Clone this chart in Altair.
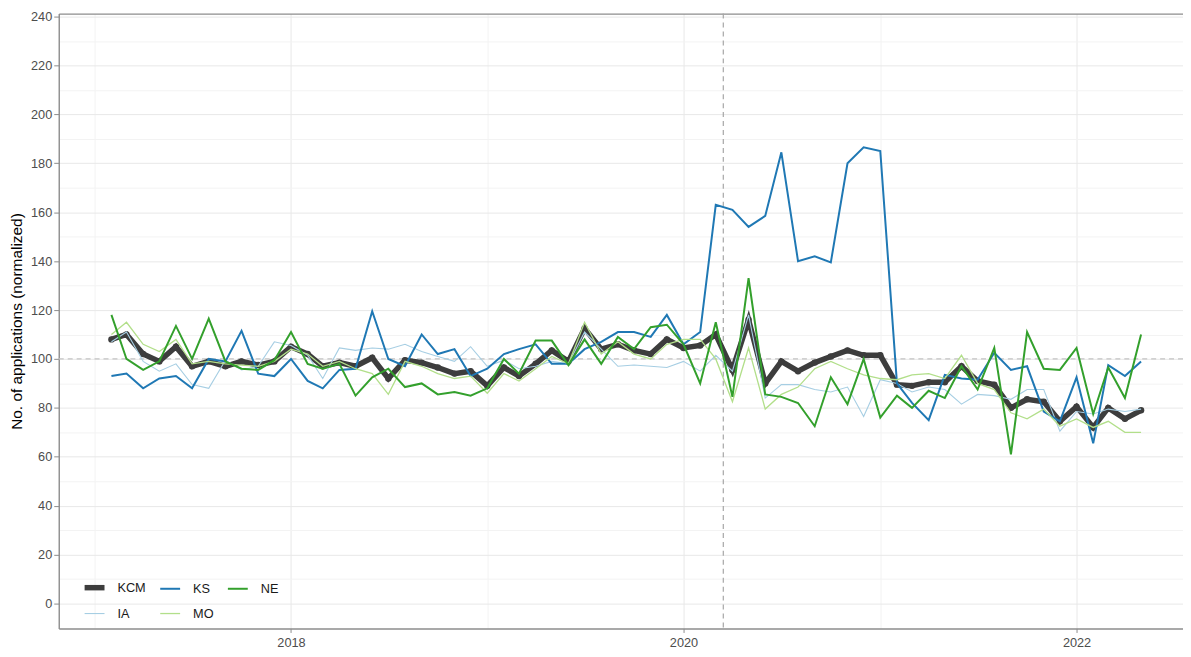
import altair as alt
import pandas as pd

# Monthly dates, Feb 2017 - May 2022
months = pd.date_range("2017-02-01", "2022-05-01", freq="MS").strftime("%Y-%m-%d").tolist()

KCM = [108, 110, 102, 99, 105, 97, 99, 97, 99, 97.5, 99, 105, 102, 97, 98.5, 97,
       100.5, 92, 99.5, 98.5, 96.5, 94, 95, 89, 96.5, 93, 98, 103.5, 99, 112.5, 104, 106,
       103.5, 102, 108, 104.5, 105.5, 110, 95.5, 116, 90, 99, 95, 98.5, 101, 103.5, 101.5, 101.5,
       89.5, 89, 90.5, 90.5, 97, 91, 89.5, 80, 83.5, 82.5, 74.5, 80.5, 72, 80, 75.5, 79]
KS = [93, 94, 88, 92, 93, 88, 100, 99, 111.5, 94, 93, 100, 91, 88, 95.5, 96,
      119.5, 100, 97, 110, 102, 104, 93, 96, 102, 104, 106, 98, 98, 104, 107, 111,
      111, 109, 118, 106, 111, 163, 161, 154, 158.5, 184.5, 140, 142, 139.5, 180, 186.5, 185,
      90, 82, 75, 93.5, 92, 91.5, 102.5, 95.5, 97, 78.5, 74.5, 92.5, 65.5, 97.5, 93, 99]
NE = [118, 100, 95.5, 99, 113.5, 100, 116.5, 99, 96, 95.5, 99.5, 111, 98, 96, 98, 85,
      92.5, 96, 88.5, 90, 85.5, 86.5, 85, 88, 100, 94, 107.5, 107.5, 97.5, 108, 98, 109,
      104, 113, 114, 106, 90, 115, 84.5, 133, 85.5, 84.5, 82, 72.5, 92.5, 81.5, 100, 76,
      85, 80, 87, 84, 97, 87.5, 104.5, 61, 111, 96, 95.5, 104.5, 77.5, 96.5, 84, 110]
IA = [107, 111, 99, 95, 98, 89.5, 88, 99.5, 95.5, 97, 107, 105.5, 101.5, 92, 104.5, 103.5,
      104.5, 104, 106, 103, 101, 99, 105, 97, 99.5, 96, 97, 99, 98, 111, 104, 97,
      97.5, 97, 96.5, 99, 95, 101.5, 95, 118, 84, 89.5, 89.5, 87.5, 86.5, 88.5, 76.5, 91.5,
      90, 86.5, 88.5, 87.5, 81.5, 85.5, 85, 83.5, 87.5, 87.5, 70.5, 78.5, 77.5, 79.5, 78.5, 79.5]
MO = [110, 115, 106, 103, 108, 98, 99, 98, 97.5, 97, 99, 104, 102, 97, 99, 96,
      94, 85.5, 99, 97, 94, 92, 93, 86, 94, 91, 96, 101, 98, 115, 102, 107,
      102, 100, 106, 108, 108, 100, 82.5, 104.5, 79.5, 85.5, 88.5, 96, 99, 96, 93.5, 92,
      91.5, 93.5, 94, 92, 101.5, 90, 87.5, 78, 75.5, 79.5, 72.5, 75.5, 72, 74.5, 70, 70]

regions = ["KCM", "KS", "NE", "IA", "MO"]
series = {"KCM": KCM, "KS": KS, "NE": NE, "IA": IA, "MO": MO}
colors = ["#3d3d3d", "#1f78b4", "#33a02c", "#a6cee3", "#b2df8a"]
widths = [5.5, 2, 2, 1.1, 1.3]
draw_order = ["KCM", "IA", "KS", "MO", "NE"]

event_date = ["2020-03-15"]
reference_level = [100]

df = pd.DataFrame([
    {"date": d, "region": r, "value": v}
    for r in regions for d, v in zip(months, series[r])
])
events = pd.DataFrame({"date": event_date})
refs = pd.DataFrame({"value": reference_level})

FONT = "Liberation Sans"
year_vals = [alt.DateTime(year=y, month=1, date=1, utc=True) for y in range(2017, 2023)]
x_scale = alt.Scale(type="utc", domain=[alt.DateTime(year=2016, month=10, date=26, utc=True),
                                         alt.DateTime(year=2022, month=7, date=18, utc=True)])
y_scale = alt.Scale(domain=[-10.2, 241.2], nice=False, zero=False)

x_axis = alt.Axis(
    values=year_vals, title=None,
    labelExpr="utcyear(datum.value) % 2 === 0 ? utcFormat(datum.value, '%Y') : ''",
    tickOpacity={"condition": {"test": "utcyear(datum.value) % 2 === 0", "value": 1}, "value": 0},
    gridColor={"condition": {"test": "utcyear(datum.value) % 2 === 0", "value": "#e8e8e8"}, "value": "#f3f3f3"},
    grid=True, domainColor="#8c8c8c", domainWidth=1.4, tickColor="#8c8c8c", tickSize=4,
    labelFont=FONT, labelFontSize=12.8, labelColor="#4d4d4d", labelPadding=4,
)
y_axis = alt.Axis(
    values=list(range(0, 241, 10)),
    labelExpr="datum.value % 20 === 0 ? datum.label : ''",
    tickOpacity={"condition": {"test": "datum.value % 20 === 0", "value": 1}, "value": 0},
    gridColor={"condition": {"test": "datum.value % 20 === 0", "value": "#e8e8e8"}, "value": "#f3f3f3"},
    grid=True, domainColor="#8c8c8c", domainWidth=1.4, tickColor="#8c8c8c", tickSize=5,
    labelFont=FONT, labelFontSize=12.8, labelColor="#4d4d4d", labelPadding=2,
    title="No. of applications (normalized)", titleFont=FONT, titleFontSize=15.5,
    titleFontWeight="normal", titleColor="#000000", titlePadding=6,
)
top_axis = alt.Axis(orient="top", labels=False, ticks=False, grid=False, title=None,
                    domainColor="#8c8c8c", domainWidth=1.2)

legend = alt.Legend(
    orient="none", legendX=23, legendY=564, columns=3, direction="horizontal", title=None,
    symbolType="stroke", symbolSize=400, labelOffset=10, columnPadding=10, rowPadding=4,
    labelFont=FONT, labelFontSize=12.8, labelColor="#1a1a1a", padding=0,
)
color_enc = alt.Color("region:N", scale=alt.Scale(domain=regions, range=colors), sort=regions, legend=legend)
width_enc = alt.StrokeWidth("region:N", scale=alt.Scale(type="ordinal", domain=regions, range=widths),
                            sort=regions, legend=legend)

vline = alt.Chart(events).mark_rule(color="#a6a6a6", strokeDash=[5, 4], strokeWidth=1.2).encode(
    x=alt.X("date:T", scale=x_scale, axis=top_axis)
)
hline = alt.Chart(refs).mark_rule(color="#c4c4c4", strokeDash=[5, 4], strokeWidth=1.2).encode(
    y=alt.Y("value:Q", scale=y_scale, axis=y_axis)
)

layers = [vline, hline]
for i, r in enumerate(draw_order):
    ax = x_axis if i == 0 else None
    line = alt.Chart(df).transform_filter(alt.datum.region == r).mark_line(strokeCap="butt").encode(
        x=alt.X("date:T", scale=x_scale, axis=ax),
        y=alt.Y("value:Q", scale=y_scale, axis=y_axis),
        color=color_enc,
        strokeWidth=width_enc,
    )
    layers.append(line)
    if r == "KCM":
        pts = alt.Chart(df).transform_filter(alt.datum.region == r).mark_circle(
            size=42, opacity=1, color="#3d3d3d"
        ).encode(
            x=alt.X("date:T", scale=x_scale, axis=None),
            y=alt.Y("value:Q", scale=y_scale, axis=y_axis),
        )
        layers.append(pts)

chart = alt.layer(*layers).resolve_axis(x="independent").properties(
    width=1130, height=618,
    padding={"left": 51, "top": 4, "right": 0, "bottom": 19},
    autosize=alt.AutoSizeParams(type="none"),
    background="white",
).configure_view(stroke=None)

chart.save("out.html", embed_options={"renderer": "svg", "actions": False})
